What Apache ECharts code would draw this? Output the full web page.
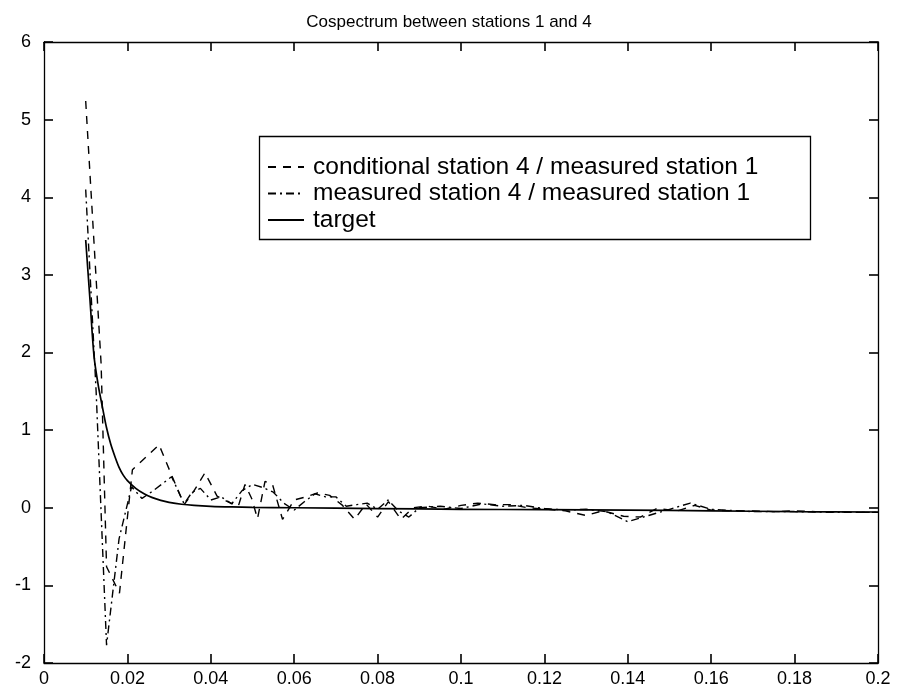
<!DOCTYPE html>
<html>
<head>
<meta charset="utf-8">
<script src="https://cdn.jsdelivr.net/npm/echarts@6/dist/echarts.min.js"></script>
<style>
html,body{margin:0;padding:0;background:#fff;}
#chart{width:898px;height:695px;}
</style>
</head>
<body>
<div id="chart"></div>
<script>
const titleText = 'Cospectrum between stations 1 and 4';
const seriesNames = ['conditional station 4 / measured station 1', 'measured station 4 / measured station 1', 'target'];
const xTicks = [0, 0.02, 0.04, 0.06, 0.08, 0.1, 0.12, 0.14, 0.16, 0.18, 0.2];
const yTicks = [-2, -1, 0, 1, 2, 3, 4, 5, 6];

const freqCond = [0.0100,0.0137,0.0150,0.0181,0.0212,0.0244,0.0276,0.0306,0.0336,0.0360,0.0386,0.0415,0.0440,0.0466,0.0482,0.0498,0.0512,0.0530,0.0548,0.0572,0.0600,0.0628,0.0656,0.0685,0.0716,0.0745,0.0772,0.0800,0.0826,0.0856,0.0885,0.0920,0.0960,0.1000,0.1040,0.1080,0.1120,0.1160,0.1210,0.1250,0.1300,0.1340,0.1390,0.1430,0.1470,0.1520,0.1560,0.1600,0.1650,0.1700,0.1750,0.1800,0.1850,0.1900,0.1950,0.2000];
const cond = [5.24,1.85,-0.76,-1.10,0.49,0.65,0.81,0.42,0.04,0.22,0.45,0.15,0.08,0.02,0.30,0.12,-0.14,0.34,0.30,-0.15,0.10,0.14,0.19,0.16,0.03,-0.15,0.05,-0.12,0.08,-0.15,0.00,0.02,-0.02,0.03,0.06,0.04,0.04,0.00,-0.02,-0.04,-0.10,-0.04,-0.11,-0.12,-0.01,-0.04,0.03,-0.03,-0.04,-0.04,-0.05,-0.04,-0.05,-0.05,-0.06,-0.06];

const freqMeas = [0.0100,0.0125,0.0150,0.0180,0.0210,0.0235,0.0262,0.0306,0.0336,0.0355,0.0375,0.0400,0.0425,0.0450,0.0475,0.0500,0.0525,0.0550,0.0575,0.0600,0.0625,0.0650,0.0675,0.0700,0.0725,0.0750,0.0775,0.0800,0.0825,0.0850,0.0875,0.0900,0.0950,0.1000,0.1050,0.1100,0.1150,0.1200,0.1250,0.1300,0.1350,0.1400,0.1450,0.1500,0.1550,0.1600,0.1700,0.1800,0.1900,0.2000];
const meas = [4.10,1.50,-1.77,-0.40,0.27,0.12,0.22,0.40,0.05,0.20,0.25,0.10,0.14,0.05,0.22,0.30,0.26,0.20,0.06,-0.03,0.08,0.18,0.14,0.14,0.02,0.04,0.06,-0.02,0.10,-0.04,-0.12,0.00,0.02,-0.01,0.05,0.02,0.03,-0.01,-0.03,-0.02,-0.05,-0.18,-0.10,-0.02,0.06,-0.02,-0.05,-0.05,-0.06,-0.06];

const freqTarget = [0.010,0.011,0.012,0.013,0.014,0.015,0.016,0.017,0.018,0.019,0.020,0.022,0.024,0.026,0.028,0.030,0.033,0.036,0.040,0.045,0.050,0.060,0.080,0.100,0.120,0.140,0.160,0.180,0.200];
const target = [3.45,2.70,1.95,1.58,1.30,1.03,0.82,0.66,0.52,0.42,0.35,0.25,0.18,0.13,0.095,0.07,0.045,0.03,0.018,0.01,0.005,0.0,-0.01,-0.02,-0.025,-0.03,-0.04,-0.05,-0.055];

const zip = (xs, ys) => xs.map((x, i) => [x, ys[i]]);
const font = 'Liberation Sans, Arial, Helvetica, sans-serif';

const chart = echarts.init(document.getElementById('chart'), null, {renderer: 'canvas'});
function axisCommon() {
  return {
    axisLine: {show: true, onZero: false, lineStyle: {color: '#000', width: 1.3}},
    axisTick: {show: true, inside: true, length: 9, lineStyle: {color: '#000', width: 1.6}},
    splitLine: {show: false}
  };
}
chart.setOption({
  backgroundColor: '#fff',
  animation: false,
  title: {
    text: titleText, left: 'center', top: 9,
    textStyle: {fontFamily: font, fontSize: 17, fontWeight: 'normal', color: '#000'}
  },
  grid: {left: 44, right: 20, top: 42, bottom: 32, containLabel: false},
  legend: {
    orient: 'vertical', left: 262, top: 149,
    itemWidth: 36, itemHeight: 14, itemGap: 0.5,
    data: seriesNames,
    itemStyle: {opacity: 0},
    textStyle: {fontFamily: font, fontSize: 24.5, lineHeight: 26, color: '#000', padding: [0, 0, 0, 4]},
    inactiveColor: '#000'
  },
  graphic: [{
    type: 'rect', left: 257, top: 134, z: 10, silent: true,
    shape: {width: 551, height: 103},
    style: {fill: 'none', stroke: '#000', lineWidth: 1.3}
  }],
  xAxis: [
    Object.assign({type: 'value', min: 0, max: 0.2, interval: 0.02, position: 'bottom',
      axisLabel: {color: '#000', fontFamily: font, fontSize: 18, margin: 7,
        formatter: v => String(parseFloat(v.toFixed(2)))}}, axisCommon()),
    Object.assign({type: 'value', min: 0, max: 0.2, interval: 0.02, position: 'top',
      axisLabel: {show: false}}, axisCommon())
  ],
  yAxis: [
    Object.assign({type: 'value', min: -2, max: 6, interval: 1, position: 'left',
      axisLabel: {color: '#000', fontFamily: font, fontSize: 18, margin: 13}}, axisCommon()),
    Object.assign({type: 'value', min: -2, max: 6, interval: 1, position: 'right',
      axisLabel: {show: false}}, axisCommon())
  ],
  series: [
    {name: seriesNames[0], type: 'line', data: zip(freqCond, cond), showSymbol: false, symbol: 'none',
      lineStyle: {color: '#000', width: 1.4, type: [8, 7]}, itemStyle: {color: '#000'}},
    {name: seriesNames[1], type: 'line', data: zip(freqMeas, meas), showSymbol: false, symbol: 'none',
      lineStyle: {color: '#000', width: 1.4, type: [8, 4, 2, 4]}, itemStyle: {color: '#000'}},
    {name: seriesNames[2], type: 'line', data: zip(freqTarget, target), showSymbol: false, symbol: 'none', smooth: 0.3,
      lineStyle: {color: '#000', width: 1.7, type: 'solid'}, itemStyle: {color: '#000'}}
  ]
});
</script>
</body>
</html>
